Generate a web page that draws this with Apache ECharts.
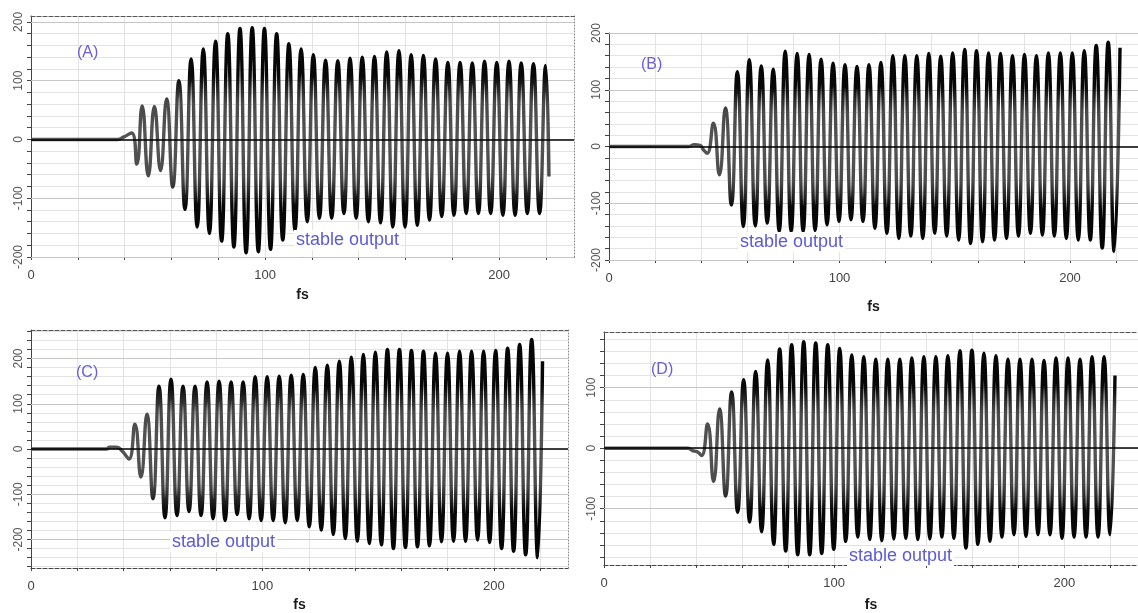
<!DOCTYPE html>
<html>
<head>
<meta charset="utf-8">
<title>stable output</title>
<script src="https://cdn.jsdelivr.net/npm/echarts@6/dist/echarts.min.js"></script>
<style>
  html, body { margin: 0; padding: 0; background: #fff; }
  #chart { width: 1138px; height: 613px; }
</style>
</head>
<body>
<div id="chart"></div>
<script>
// ---- data ----
// samples [fs, value] before the oscillation builds up
const onsetA = [[0, 0], [37, 0], [39.5, 4], [43, 11], [45.2, -42]];
const onsetB = [[0, 0], [34.5, 0], [37, 3], [39.5, 2], [41, -6], [42.6, -12]];
const onsetC = [[0, 0], [32.5, 0], [34, 4], [37, 4], [39.5, -5], [42.3, -22]];
const onsetD = [[0, 0], [36.5, 0], [38.5, -4], [40.5, -6], [42.4, -12]];

// fs of the first peak and the cycle length of each run
const firstPeakA = 47.5, periodA = 5.224;
const firstPeakB = 45.3, periodB = 5.19;
const firstPeakC = 44.9, periodC = 5.194;
const firstPeakD = 45.0, periodD = 5.22;

// one maximum and the following minimum per cycle
const peaksA = [57, 56, 69, 100, 137, 154, 167, 180, 189, 190, 189, 180, 163, 154, 144, 135, 134,
  138, 140, 141, 149, 151, 144, 143, 137, 131, 131, 130, 133, 131, 133, 130, 129, 126];
const troughsA = [-62, -53, -81, -119, -149, -160, -173, -183, -193, -191, -187, -171, -155, -140,
  -134, -134, -126, -134, -140, -142, -149, -149, -146, -137, -131, -129, -126, -126, -126, -129,
  -129, -126, -126];
const endA = [221.3, -63];

const peaksB = [41, 68, 132, 153, 142, 136, 168, 164, 162, 154, 147, 144, 141, 144, 148, 160, 160,
  160, 164, 159, 165, 171, 169, 165, 164, 160, 162, 160, 165, 165, 165, 169, 178, 184];
const troughsB = [-50, -103, -141, -140, -135, -150, -150, -150, -148, -138, -132, -129, -132, -144,
  -153, -162, -158, -162, -153, -158, -165, -171, -168, -165, -162, -158, -153, -156, -158, -162,
  -165, -165, -179, -185];
const endB = [221.7, 174];

const peaksC = [55, 77, 139, 154, 139, 139, 148, 150, 148, 148, 160, 160, 161, 163, 165, 180, 185,
  194, 203, 209, 214, 220, 220, 218, 216, 212, 212, 216, 216, 216, 218, 223, 231, 242];
const troughsC = [-62, -110, -152, -147, -138, -147, -154, -158, -145, -154, -158, -158, -163, -158,
  -172, -179, -189, -198, -204, -209, -212, -220, -218, -216, -214, -205, -204, -204, -201, -207,
  -220, -226, -234, -240];
const endC = [221.0, 194];

const peaksD = [40, 65, 93, 113, 127, 146, 164, 171, 176, 174, 171, 165, 154, 151, 147, 147, 147,
  149, 151, 151, 153, 161, 162, 157, 153, 147, 147, 147, 145, 149, 149, 147, 151, 151];
const troughsD = [-55, -79, -106, -122, -138, -159, -170, -176, -176, -174, -167, -154, -147, -151,
  -153, -150, -149, -151, -150, -147, -149, -165, -159, -154, -147, -143, -146, -143, -143, -149,
  -147, -147, -147, -143];
const endD = [222.0, 120];

// axis ticks
const xLabels = [0, 100, 200];
const yLabelsABC = [-200, -100, 0, 100, 200];
const yLabelsD = [-100, 0, 100];
const tickStep = 20;

// ---- build ----
function wave(onset, first, period, peaks, troughs, end) {
  const pts = onset.slice();
  peaks.forEach((p, i) => {
    pts.push([first + i * period, p]);
    if (i < troughs.length) pts.push([first + (i + 0.5) * period, troughs[i]]);
  });
  pts.push(end);
  return pts;
}

function steps(lo, hi) {
  const out = [];
  for (let v = Math.ceil(lo / tickStep) * tickStep; v <= hi; v += tickStep) out.push(v);
  return out;
}

const panels = [
  { tag: '(A)', left: 31, top: 16, width: 543, height: 241, xMax: 232, yMin: -200, yMax: 210,
    yLabels: yLabelsABC, nameGap: 31, tagPos: [88, 55], notePos: [349, 241],
    data: wave(onsetA, firstPeakA, periodA, peaksA, troughsA, endA) },
  { tag: '(B)', left: 609, top: 33, width: 529, height: 227, xMax: 229.5, yMin: -200, yMax: 200,
    yLabels: yLabelsABC, nameGap: 40, tagPos: [652, 67], notePos: [793, 243],
    data: wave(onsetB, firstPeakB, periodB, peaksB, troughsB, endB) },
  { tag: '(C)', left: 31, top: 330, width: 537, height: 239, xMax: 232, yMin: -263, yMax: 263,
    yLabels: yLabelsABC, nameGap: 30, tagPos: [87, 375], notePos: [225, 543],
    data: wave(onsetC, firstPeakC, periodC, peaksC, troughsC, endC) },
  { tag: '(D)', left: 604, top: 332, width: 534, height: 239, xMax: 232, yMin: -193, yMax: 192,
    yLabels: yLabelsD, nameGap: 33, tagPos: [662, 372], notePos: [902, 557],
    data: wave(onsetD, firstPeakD, periodD, peaksD, troughsD, endD) }
];

const font = '"Liberation Sans", Arial, sans-serif';
const grid = [], xAxis = [], yAxis = [], series = [], graphic = [];

// dark near the extremes, grey through the middle, as in the scanned trace
function traceColor() {
  return new echarts.graphic.LinearGradient(0, 0, 0, 1, [
    { offset: 0, color: '#050505' }, { offset: 0.22, color: '#080808' },
    { offset: 0.34, color: '#4a4a4a' }, { offset: 0.5, color: '#555' },
    { offset: 0.66, color: '#4a4a4a' }, { offset: 0.78, color: '#080808' },
    { offset: 1, color: '#050505' }
  ]);
}

panels.forEach((p, k) => {
  grid.push({ left: p.left, top: p.top, width: p.width, height: p.height, show: false });
  const xTicks = steps(0, p.xMax);
  const yTicks = steps(p.yMin, p.yMax);

  xAxis.push({
    type: 'value', gridIndex: k, min: 0, max: p.xMax, position: 'bottom',
    name: 'fs', nameLocation: 'middle', nameGap: p.nameGap,
    nameTextStyle: { fontFamily: font, fontSize: 14, fontWeight: 'bold', color: '#1a1a1a' },
    axisLine: { show: true, onZero: false, lineStyle: { color: '#444', width: 1.2, type: [4, 2] } },
    axisTick: { show: true, length: 3, customValues: xTicks, lineStyle: { color: '#444' } },
    axisLabel: { customValues: xLabels, fontFamily: font, fontSize: 13, color: '#444', margin: 12 },
    splitLine: { show: true, lineStyle: { color: '#e3e3e3', width: 1 } }
  });
  xAxis.push({
    type: 'value', gridIndex: k, min: 0, max: p.xMax, position: 'top',
    axisLine: { show: true, onZero: false, lineStyle: { color: '#555', width: 1.2, type: [4, 2] } },
    axisTick: { show: false }, axisLabel: { show: false }, splitLine: { show: false }
  });
  yAxis.push({
    type: 'value', gridIndex: k, min: p.yMin, max: p.yMax, position: 'left',
    axisLine: { show: true, onZero: false, lineStyle: { color: '#444', width: 1 } },
    axisTick: { show: true, length: 4, customValues: yTicks, lineStyle: { color: '#444' } },
    axisLabel: { customValues: p.yLabels, rotate: 90, fontFamily: font, fontSize: 12,
      color: '#555', margin: 6 },
    splitLine: { show: true, lineStyle: { color: '#e3e3e3', width: 1 } }
  });
  yAxis.push({
    type: 'value', gridIndex: k, min: p.yMin, max: p.yMax, position: 'right',
    axisLine: { show: true, onZero: false, lineStyle: { color: '#888', width: 1, type: [1, 2] } },
    axisTick: { show: false }, axisLabel: { show: false }, splitLine: { show: false }
  });

  // darker grid lines at the labelled hundreds, under the trace
  series.push({
    type: 'line', xAxisIndex: 2 * k, yAxisIndex: 2 * k, z: 1, data: [], silent: true,
    markLine: { silent: true, z: 1, symbol: ['none', 'none'], label: { show: false },
      animation: false,
      data: p.yLabels.filter(v => v !== 0).map(v => ({
        yAxis: v, lineStyle: { color: '#c6c6c6', width: 1, type: 'solid' }
      })) }
  });
  series.push({
    type: 'line', xAxisIndex: 2 * k, yAxisIndex: 2 * k, z: 3,
    data: p.data, showSymbol: false, smooth: 0.5, animation: false,
    lineStyle: { color: traceColor(), width: 3.4, join: 'round' },
    // zero line drawn across the trace
    markLine: { silent: true, z: 5, symbol: ['none', 'none'], label: { show: false },
      animation: false,
      data: [{ yAxis: 0, lineStyle: { color: '#000', width: 1.5, type: 'solid' } }] }
  });

  graphic.push({
    type: 'text', left: p.tagPos[0] - 11, top: p.tagPos[1] - 10, z: 10,
    style: { text: p.tag, fontFamily: font, fontSize: 16, fill: '#6a60d2' }
  });
  graphic.push({
    type: 'text', left: p.notePos[0] - 55, top: p.notePos[1] - 11, z: 10,
    style: { text: 'stable output', fontFamily: font, fontSize: 18, fill: '#5b5bd8',
      backgroundColor: '#fff', padding: [1, 2] }
  });
});

const chart = echarts.init(document.getElementById('chart'), null, { renderer: 'canvas' });
chart.setOption({
  backgroundColor: '#fff',
  animation: false,
  grid, xAxis, yAxis, series, graphic
});
</script>
</body>
</html>
